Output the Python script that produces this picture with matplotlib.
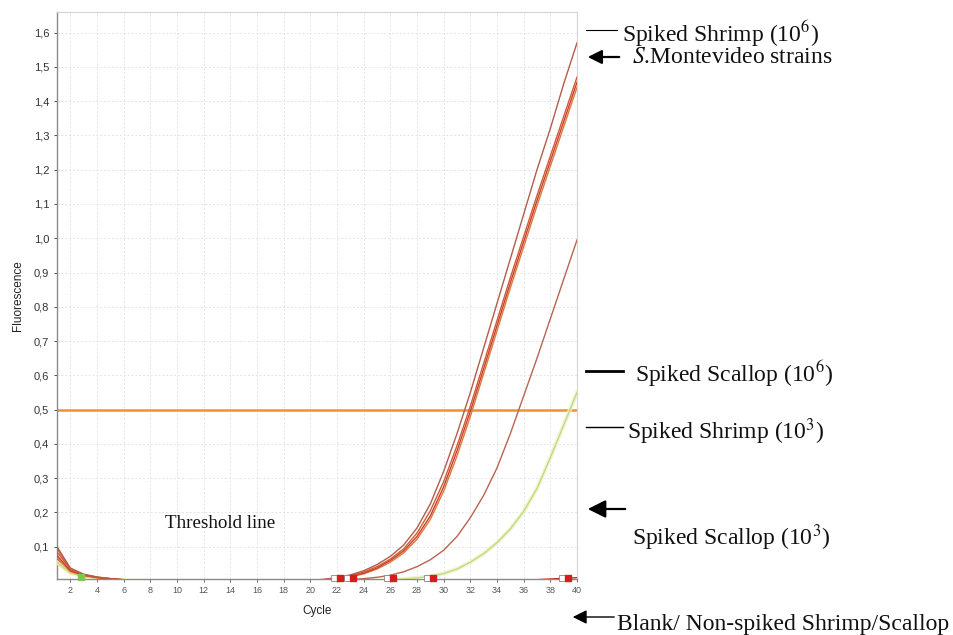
import matplotlib
matplotlib.use("Agg")
import matplotlib.pyplot as plt
from matplotlib.ticker import FuncFormatter

cycles = list(range(1, 41))

shrimp_1e6_a = [0.100, 0.038, 0.020, 0.012, 0.007, 0.004, 0.002, 0.001,
                0, 0, 0, 0, 0, 0, 0, 0, 0, 0, 0,
                0.002, 0.005, 0.010, 0.018, 0.030, 0.048, 0.072, 0.105, 0.155, 0.225, 0.320,
                0.430, 0.550, 0.680, 0.810, 0.940, 1.070, 1.200, 1.320, 1.450, 1.570]
montevideo_b = [0.085, 0.034, 0.018, 0.011, 0.007, 0.004, 0.002, 0.001,
                0, 0, 0, 0, 0, 0, 0, 0, 0, 0, 0,
                0.001, 0.004, 0.008, 0.015, 0.026, 0.042, 0.064, 0.094, 0.140, 0.205, 0.290,
                0.395, 0.510, 0.635, 0.760, 0.885, 1.005, 1.125, 1.240, 1.355, 1.470]
montevideo_c = [0.075, 0.030, 0.017, 0.010, 0.006, 0.003, 0.002, 0.001,
                0, 0, 0, 0, 0, 0, 0, 0, 0, 0, 0,
                0.001, 0.003, 0.007, 0.013, 0.023, 0.038, 0.060, 0.088, 0.130, 0.190, 0.275,
                0.380, 0.495, 0.620, 0.745, 0.870, 0.990, 1.110, 1.225, 1.340, 1.455]
montevideo_d = [0.068, 0.028, 0.016, 0.010, 0.006, 0.003, 0.001, 0.0,
                0, 0, 0, 0, 0, 0, 0, 0, 0, 0, 0,
                0.001, 0.003, 0.006, 0.012, 0.021, 0.035, 0.055, 0.082, 0.122, 0.180, 0.262,
                0.365, 0.480, 0.605, 0.730, 0.855, 0.975, 1.095, 1.210, 1.325, 1.440]
scallop_1e6 = [0.095, 0.036, 0.019, 0.011, 0.007, 0.004, 0.002, 0.001,
               0, 0, 0, 0, 0, 0, 0, 0, 0, 0, 0,
               0.0, 0.001, 0.002, 0.004, 0.007, 0.011, 0.017, 0.027, 0.042, 0.062, 0.090,
               0.130, 0.185, 0.250, 0.330, 0.430, 0.540, 0.650, 0.765, 0.880, 0.995]
shrimp_1e3 = [0.055, 0.024, 0.013, 0.008, 0.005, 0.003, 0.001, 0.0,
              0, 0, 0, 0, 0, 0, 0, 0, 0, 0, 0,
              0.0, 0.0, 0.001, 0.001, 0.002, 0.003, 0.004, 0.006, 0.009, 0.014, 0.022,
              0.035, 0.055, 0.080, 0.112, 0.152, 0.203, 0.270, 0.360, 0.455, 0.550]
blank_g = [0.065, 0.027, 0.015, 0.009, 0.005, 0.003, 0.001, 0.0,
           0, 0, 0, 0, 0, 0, 0, 0, 0, 0, 0,
           0, 0, 0, 0, 0, 0, 0, 0, 0, 0, 0,
           0, 0, 0, 0, 0.001, 0.002, 0.004, 0.006, 0.008, 0.010]
blank_h = [0.060, 0.025, 0.014, 0.009, 0.005, 0.003, 0.001, 0.001,
           0.001, 0.001, 0.001, 0.001, 0.001, 0.001, 0.001, 0.001, 0.001, 0.001, 0.001,
           0.001, 0.001, 0.001, 0.001, 0.001, 0.001, 0.001, 0.001, 0.001, 0.001, 0.001,
           0.001, 0.001, 0.001, 0.001, 0.001, 0.001, 0.001, 0.001, 0.001, 0.001]
blank_i = [0.050, 0.022, 0.012, 0.008, 0.005, 0.002, 0.001, 0.0,
           0, 0, 0, 0, 0, 0, 0, 0, 0, 0, 0,
           0, 0, 0, 0, 0, 0, 0, 0, 0, 0, 0,
           0, 0, 0, 0, 0, 0, 0, 0, 0, 0]

threshold = 0.5
ct_cycles = [22.2, 23.2, 26.2, 29.2, 39.3]
ct_values = [0.008, 0.008, 0.008, 0.008, 0.009]
green_marker = (2.8, 0.012)

x_ticks = list(range(2, 41, 2))
y_ticks = [0.1, 0.2, 0.3, 0.4, 0.5, 0.6, 0.7, 0.8, 0.9, 1.0, 1.1, 1.2, 1.3, 1.4, 1.5, 1.6]

W, H = 954, 635
plt.rcParams["mathtext.fontset"] = "stix"
fig = plt.figure(figsize=(W / 100, H / 100), dpi=100)
ax = fig.add_axes([57 / W, 1 - 579 / H, (577 - 57) / W, (579 - 12) / H])

ax.set_xlim(1, 40)
ax.set_ylim(0.006, 1.66)

ax.grid(True, color="#e4e4e4", linestyle=(0, (2, 2)), linewidth=0.7)
ax.set_axisbelow(True)
ax.set_xticks(x_ticks)
ax.set_yticks(y_ticks)
ax.yaxis.set_major_formatter(FuncFormatter(lambda v, p: f"{v:.1f}".replace(".", ",")))
ax.tick_params(axis="y", labelsize=8, colors="#333333", length=2.5, width=0.6, pad=3)
ax.tick_params(axis="x", labelsize=6.5, colors="#555555", length=2, width=0.6, pad=3)
for lab in ax.get_yticklabels():
    lab.set_fontfamily("Liberation Sans")
for lab in ax.get_xticklabels():
    lab.set_fontfamily("Liberation Sans")

for s in ["left", "bottom"]:
    ax.spines[s].set_color("#8a8a8a")
    ax.spines[s].set_linewidth(1.0)
for s in ["top", "right"]:
    ax.spines[s].set_color("#d4d4d4")
    ax.spines[s].set_linewidth(0.8)

ax.set_xlabel("Cycle", fontsize=8.5, family="Liberation Sans", color="#222222", labelpad=7)
ax.set_ylabel("Fluorescence", fontsize=8.5, family="Liberation Sans", color="#222222", labelpad=7)

ax.axhline(threshold, color="#f59028", linewidth=1.8, zorder=2)

# blanks
ax.plot(cycles, blank_i, color="#f2c84a", linewidth=1.0, zorder=3)
ax.plot(cycles, blank_h, color="#e8823a", linewidth=1.0, zorder=3)
ax.plot(cycles, blank_g, color="#c8302a", linewidth=1.0, zorder=3)
# green-yellow curve with glow
ax.plot(cycles, shrimp_1e3, color="#eaf3c8", linewidth=3.0, alpha=0.8, zorder=3)
ax.plot(cycles, shrimp_1e3, color="#c4da7c", linewidth=1.0, zorder=3)
ax.plot(cycles, scallop_1e6, color="#b86450", linewidth=1.0, zorder=4)
ax.plot(cycles, montevideo_d, color="#e07a3a", linewidth=1.0, zorder=4)
ax.plot(cycles, montevideo_c, color="#c8402c", linewidth=1.0, zorder=4)
ax.plot(cycles, montevideo_b, color="#d05a38", linewidth=1.0, zorder=4)
ax.plot(cycles, shrimp_1e6_a, color="#b45c4c", linewidth=1.0, zorder=4)

# Ct markers
for cx, cy in zip(ct_cycles, ct_values):
    ax.plot([cx - 0.45], [cy], marker="s", markersize=4.5, markerfacecolor="white",
            markeredgecolor="#888888", markeredgewidth=0.6, clip_on=False, zorder=5)
    ax.plot([cx], [cy], marker="s", markersize=5, color="#d41e1e", clip_on=False, zorder=6)
ax.plot([green_marker[0]], [green_marker[1]], marker="s", markersize=5, color="#7cc84a",
        clip_on=False, zorder=6)


def fx(px):
    return px / W


def fy(py):
    return 1 - py / H


serif = "Liberation Serif"
fs = 17

fig.text(fx(165), fy(528), "Threshold line", fontsize=13.7, family=serif, color="#111111")

lab_color = "#111111"
fig.text(fx(622), fy(42), r"Spiked Shrimp (10$^{6}$)", fontsize=fs, family=serif, color=lab_color)
fig.text(fx(632), fy(63), r"$\it{S}$.Montevideo strains", fontsize=fs, family=serif, color=lab_color)
fig.text(fx(635), fy(382), r"Spiked Scallop (10$^{6}$)", fontsize=fs, family=serif, color=lab_color)
fig.text(fx(627), fy(439), r"Spiked Shrimp (10$^{3}$)", fontsize=fs, family=serif, color=lab_color)
fig.text(fx(632), fy(545), r"Spiked Scallop (10$^{3}$)", fontsize=fs, family=serif, color=lab_color)
fig.text(fx(617), fy(630), "Blank/ Non-spiked Shrimp/Scallop", fontsize=fs, family=serif, color=lab_color)


def hline(x0, x1, y, lw):
    fig.add_artist(plt.Line2D([fx(x0), fx(x1)], [fy(y), fy(y)], color="black", linewidth=lw))


def arrow(x0, x1, y, lw, hw):
    fig.add_artist(matplotlib.patches.FancyArrowPatch(
        (fx(x0), fy(y)), (fx(x1), fy(y)), transform=fig.transFigure,
        arrowstyle=f"-|>,head_length={hw*1.2},head_width={hw*0.6}",
        color="black", linewidth=lw, mutation_scale=10))


hline(586, 617, 30, 0.8)
arrow(622, 585, 57, 1.6, 0.7)
hline(586, 623, 371, 2.0)
hline(586, 623, 427, 1.0)
arrow(628, 585, 509, 1.6, 0.9)
arrow(617, 570, 617, 1.0, 0.7)

fig.savefig("out.png", dpi=100)
